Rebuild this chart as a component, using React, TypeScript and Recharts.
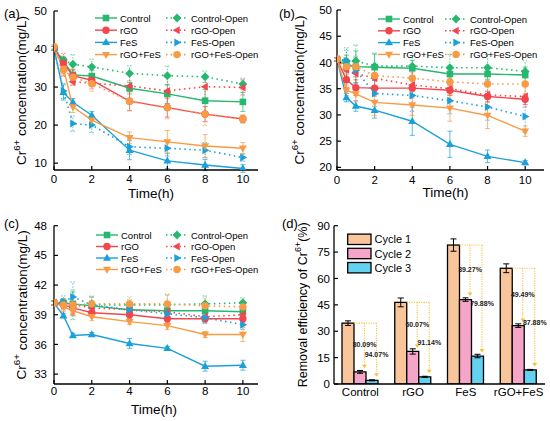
import React from 'react';
import { LineChart, Line, XAxis, YAxis, ErrorBar, Legend, BarChart, Bar } from 'recharts';

const FONT = 'Arial, "Liberation Sans", sans-serif';

// shared
const TIME = [0, 0.5, 1, 2, 4, 6, 8, 10];
const X_TICKS = [0, 2, 4, 6, 8, 10];
const SERIES_NAMES = ['Control', 'Control-Open', 'rGO', 'rGO-Open', 'FeS', 'FeS-Open', 'rGO+FeS', 'rGO+FeS-Open'];

// panel (a)
const A_CONTROL = [40.2, 36.8, 33.2, 32.9, 29.7, 28.2, 26.4, 26.1];
const A_CONTROL_OPEN = [40.2, 37.1, 36.0, 35.3, 33.6, 33.0, 32.7, 30.8];
const A_RGO = [40.2, 36.3, 33.0, 31.8, 26.3, 24.6, 22.9, 21.6];
const A_RGO_OPEN = [40.2, 35.8, 31.4, 31.0, 30.3, 29.0, 30.1, 29.9];
const A_FES = [40.2, 28.6, 26.0, 22.6, 13.4, 10.6, 9.5, 8.6];
const A_FES_OPEN = [40.2, 29.0, 20.4, 20.0, 14.3, 13.9, 13.4, 11.5];
const A_RGO_FES = [40.2, 34.9, 24.8, 21.3, 16.7, 15.6, 14.5, 13.9];
const A_RGO_FES_OPEN = [40.6, 34.5, 32.6, 30.9, 26.3, 24.6, 22.9, 21.6];

const A_CONTROL_ERR = [0.5, 1.0, 1.5, 1.5, 1.5, 2.5, 3.0, 2.5];
const A_CONTROL_OPEN_ERR = [0.5, 1.0, 2.5, 2.0, 2.0, 2.5, 1.5, 1.5];
const A_RGO_ERR = [0.5, 1.5, 1.5, 1.0, 2.5, 2.5, 2.0, 1.0];
const A_RGO_OPEN_ERR = [0.5, 3.0, 1.0, 1.5, 3.5, 3.5, 3.0, 2.0];
const A_FES_ERR = [0.5, 2.0, 1.0, 1.0, 2.5, 2.0, 1.5, 1.0];
const A_FES_OPEN_ERR = [0.5, 2.0, 2.0, 2.0, 2.0, 2.0, 2.0, 1.0];
const A_RGO_FES_ERR = [0.5, 1.5, 1.5, 1.0, 1.5, 3.0, 3.0, 1.5];
const A_RGO_FES_OPEN_ERR = [0.5, 1.5, 2.0, 2.0, 2.5, 3.0, 3.0, 1.0];

// panel (b)
const B_CONTROL = [40.6, 39.4, 39.2, 39.1, 38.9, 37.8, 37.8, 37.6];
const B_CONTROL_OPEN = [40.6, 40.3, 40.3, 39.3, 39.3, 39.0, 39.0, 38.3];
const B_RGO = [40.6, 36.7, 35.2, 35.1, 35.1, 34.7, 33.5, 33.0];
const B_RGO_OPEN = [40.6, 38.6, 37.9, 37.0, 35.7, 35.0, 33.8, 33.5];
const B_FES = [40.6, 33.3, 31.7, 30.9, 28.8, 24.4, 22.1, 20.9];
const B_FES_OPEN = [40.6, 40.3, 38.5, 34.1, 33.7, 32.7, 31.5, 29.7];
const B_RGO_FES = [40.6, 34.7, 34.0, 32.4, 31.9, 31.3, 29.9, 26.9];
const B_RGO_FES_OPEN = [40.6, 39.2, 39.2, 37.5, 37.0, 36.3, 35.9, 35.9];

const B_CONTROL_ERR = [0.3, 2.0, 3.0, 2.5, 1.5, 1.5, 1.0, 1.5];
const B_CONTROL_OPEN_ERR = [0.3, 2.5, 3.0, 2.5, 2.0, 2.5, 2.5, 2.0];
const B_RGO_ERR = [0.3, 1.5, 1.5, 1.5, 1.5, 1.0, 1.0, 1.0];
const B_RGO_OPEN_ERR = [0.3, 2.0, 2.5, 2.5, 2.5, 2.0, 2.0, 2.0];
const B_FES_ERR = [0.3, 0.8, 1.0, 1.5, 2.7, 2.5, 1.2, 0.4];
const B_FES_OPEN_ERR = [0.3, 2.0, 2.5, 2.5, 3.0, 2.5, 2.5, 3.0];
const B_RGO_FES_ERR = [0.3, 1.0, 1.5, 2.5, 2.0, 2.5, 2.5, 1.0];
const B_RGO_FES_OPEN_ERR = [0.3, 1.5, 2.0, 2.0, 2.5, 2.5, 2.5, 2.5];

// panel (c)
const C_CONTROL = [40.2, 40.2, 40.1, 39.9, 39.5, 39.4, 39.4, 39.3];
const C_CONTROL_OPEN = [40.2, 40.1, 40.0, 40.0, 40.0, 40.0, 40.1, 40.2];
const C_RGO = [40.2, 40.0, 39.7, 39.2, 39.0, 38.6, 38.6, 38.6];
const C_RGO_OPEN = [40.2, 40.1, 40.0, 39.7, 39.5, 39.3, 38.8, 39.0];
const C_FES = [40.2, 38.9, 36.9, 37.0, 36.1, 35.6, 33.8, 33.9];
const C_FES_OPEN = [40.2, 40.3, 40.8, 40.0, 39.5, 39.1, 38.7, 38.0];
const C_RGO_FES = [40.2, 39.8, 39.4, 38.8, 38.3, 37.9, 37.0, 37.0];
const C_RGO_FES_OPEN = [40.2, 40.0, 40.0, 40.1, 40.1, 40.1, 39.9, 39.8];

const C_CONTROL_ERR = [0.2, 0.4, 1.2, 0.5, 0.3, 0.6, 0.3, 0.3];
const C_CONTROL_OPEN_ERR = [0.2, 0.5, 1.5, 0.8, 0.5, 1.0, 0.8, 0.5];
const C_RGO_ERR = [0.2, 0.3, 0.6, 0.4, 0.4, 0.4, 0.3, 0.4];
const C_RGO_OPEN_ERR = [0.2, 0.5, 1.0, 0.6, 0.6, 0.6, 0.6, 0.6];
const C_FES_ERR = [0.2, 0.2, 0.2, 0.2, 0.5, 0.2, 0.5, 0.5];
const C_FES_OPEN_ERR = [0.2, 0.6, 1.5, 0.8, 0.5, 0.6, 0.6, 0.5];
const C_RGO_FES_ERR = [0.2, 0.5, 0.5, 0.4, 0.3, 0.4, 0.3, 0.7];
const C_RGO_FES_OPEN_ERR = [0.2, 0.6, 0.8, 0.8, 0.7, 1.0, 0.8, 0.6];

// panel (d)
const GROUPS = ['Control', 'rGO', 'FeS', 'rGO+FeS'];
const CYCLE_1 = [34.6, 46.4, 79.0, 65.8];
const CYCLE_2 = [6.9, 18.5, 48.0, 33.2];
const CYCLE_3 = [2.1, 4.1, 15.9, 8.0];
const CYCLE_1_ERR = [1.3, 2.5, 3.5, 2.5];
const CYCLE_2_ERR = [0.8, 1.5, 1.0, 1.0];
const CYCLE_3_ERR = [0.3, 0.3, 1.0, 0.3];
const DROP_2 = ['80.09%', '60.07%', '39.27%', '49.49%'];
const DROP_3 = ['94.07%', '91.14%', '79.88%', '87.88%'];
const CYCLE_NAMES = ['Cycle 1', 'Cycle 2', 'Cycle 3'];

const A_VALUES = [A_CONTROL, A_CONTROL_OPEN, A_RGO, A_RGO_OPEN, A_FES, A_FES_OPEN, A_RGO_FES, A_RGO_FES_OPEN];
const A_ERRORS = [A_CONTROL_ERR, A_CONTROL_OPEN_ERR, A_RGO_ERR, A_RGO_OPEN_ERR, A_FES_ERR, A_FES_OPEN_ERR, A_RGO_FES_ERR, A_RGO_FES_OPEN_ERR];
const B_VALUES = [B_CONTROL, B_CONTROL_OPEN, B_RGO, B_RGO_OPEN, B_FES, B_FES_OPEN, B_RGO_FES, B_RGO_FES_OPEN];
const B_ERRORS = [B_CONTROL_ERR, B_CONTROL_OPEN_ERR, B_RGO_ERR, B_RGO_OPEN_ERR, B_FES_ERR, B_FES_OPEN_ERR, B_RGO_FES_ERR, B_RGO_FES_OPEN_ERR];
const C_VALUES = [C_CONTROL, C_CONTROL_OPEN, C_RGO, C_RGO_OPEN, C_FES, C_FES_OPEN, C_RGO_FES, C_RGO_FES_OPEN];
const C_ERRORS = [C_CONTROL_ERR, C_CONTROL_OPEN_ERR, C_RGO_ERR, C_RGO_OPEN_ERR, C_FES_ERR, C_FES_OPEN_ERR, C_RGO_FES_ERR, C_RGO_FES_OPEN_ERR];

const GREEN = '#25B86E';
const RED = '#F2464F';
const BLUE = '#1CA0D9';
const ORANGE = '#F89B45';
const GOLD = '#F5C342';
const CYCLE_COLORS = ['#F9C69C', '#F5A5C8', '#62D2F0'];

const SERIES_STYLE = [
  { color: GREEN, shape: 'square', dotted: false },
  { color: GREEN, shape: 'diamond', dotted: true },
  { color: RED, shape: 'circle', dotted: false },
  { color: RED, shape: 'left', dotted: true },
  { color: BLUE, shape: 'up', dotted: false },
  { color: BLUE, shape: 'right', dotted: true },
  { color: ORANGE, shape: 'down', dotted: false },
  { color: ORANGE, shape: 'circle', dotted: true },
];

const AXIS = { stroke: '#000', strokeWidth: 1.3 };
const TICK_LINE = { stroke: '#000', strokeWidth: 1.2 };
const TICK = { fontSize: 11.5, fill: '#000', fontFamily: FONT };

const buildRows = (values: number[][], errors: number[][]) =>
  TIME.map((t, i) => {
    const row: Record<string, number> = { t };
    values.forEach((s, k) => {
      row[`v${k}`] = s[i];
      row[`e${k}`] = errors[k][i];
    });
    return row;
  });

const Marker = ({ cx, cy, shape, color }: any) => {
  const r = 3.3;
  if (cx == null || cy == null) return null;
  switch (shape) {
    case 'square':
      return <rect x={cx - r} y={cy - r} width={2 * r} height={2 * r} fill={color} />;
    case 'diamond':
      return <polygon points={`${cx},${cy - 4.4} ${cx + 4.4},${cy} ${cx},${cy + 4.4} ${cx - 4.4},${cy}`} fill={color} />;
    case 'circle':
      return <circle cx={cx} cy={cy} r={3.7} fill={color} />;
    case 'up':
      return <polygon points={`${cx},${cy - 4.3} ${cx + 4},${cy + 2.7} ${cx - 4},${cy + 2.7}`} fill={color} />;
    case 'down':
      return <polygon points={`${cx},${cy + 4.3} ${cx + 4},${cy - 2.7} ${cx - 4},${cy - 2.7}`} fill={color} />;
    case 'left':
      return <polygon points={`${cx - 4.3},${cy} ${cx + 2.7},${cy - 4} ${cx + 2.7},${cy + 4}`} fill={color} />;
    default:
      return <polygon points={`${cx + 4.3},${cy} ${cx - 2.7},${cy - 4} ${cx - 2.7},${cy + 4}`} fill={color} />;
  }
};

const yTitle = (before: string, sup: string, after: string, cxRel: number, size: number) => (props: any) => {
  const vb = props.viewBox || { x: 0, y: 0, width: 0, height: 0 };
  const cx = vb.x + cxRel;
  const cy = vb.y + vb.height / 2;
  return (
    <text x={cx} y={cy} transform={`rotate(-90 ${cx} ${cy})`} textAnchor="middle" dominantBaseline="central"
      fontSize={size} fill="#000" fontFamily={FONT}>
      {before}
      <tspan dy={-size * 0.4} fontSize={size * 0.72}>{sup}</tspan>
      <tspan dy={size * 0.4}>{after}</tspan>
    </text>
  );
};

const xTitle = (dx: number, dy: number) => (props: any) => {
  const vb = props.viewBox || { x: 0, y: 0, width: 0, height: 0 };
  return (
    <text x={vb.x + vb.width / 2 + dx} y={vb.y + dy} textAnchor="middle" dominantBaseline="central"
      fontSize={13.5} fill="#000" fontFamily={FONT}>
      Time(h)
    </text>
  );
};

const LineLegend = ({ spec }: any) => (
  <svg width={275} height={80} style={{ display: 'block', overflow: 'visible' }}>
    {SERIES_STYLE.map((s, k) => {
      const x = k % 2 ? spec.x2 : spec.x1;
      const y = spec.y + Math.floor(k / 2) * spec.dy;
      return (
        <g key={k}>
          <line x1={x} x2={x + 22} y1={y} y2={y} stroke={s.color} strokeWidth={s.dotted ? 1.6 : 1.4}
            strokeDasharray={s.dotted ? '1.5 3' : undefined} />
          <Marker cx={x + 11} cy={y} shape={s.shape} color={s.color} />
          <text x={x + 25} y={y} dominantBaseline="central" fontSize={9.5} fill="#000" fontFamily={FONT}>
            {SERIES_NAMES[k]}
          </text>
        </g>
      );
    })}
  </svg>
);

const ConcPanel = ({ values, errors, cfg }: any) => {
  const rows = buildRows(values, errors);
  return (
    <LineChart width={275} height={210} data={rows} margin={{ top: cfg.top, right: cfg.right, left: 0, bottom: 0 }}>
      <XAxis type="number" dataKey="t" domain={[0, cfg.xMax]} ticks={X_TICKS} allowDataOverflow
        height={cfg.xAxisHeight} tickSize={-4} tickMargin={cfg.xTickMargin} tick={TICK}
        axisLine={AXIS} tickLine={TICK_LINE} label={xTitle(cfg.xLabelDx, cfg.xLabelDy)} />
      <YAxis type="number" domain={cfg.yDomain} ticks={cfg.yTicks} allowDataOverflow width={cfg.yAxisWidth}
        tickSize={-4} tickMargin={cfg.yTickMargin} tick={TICK} axisLine={AXIS} tickLine={TICK_LINE}
        label={yTitle('Cr', '6+', ' concentration(mg/L)', cfg.yLabelX, 13.5)} />
      <XAxis xAxisId="frame" orientation="top" type="number" domain={[0, 1]} height={0} tick={false}
        tickLine={false} axisLine={AXIS} />
      <YAxis yAxisId="frame" orientation="right" type="number" domain={[0, 1]} width={0} tick={false}
        tickLine={false} axisLine={AXIS} />
      {SERIES_STYLE.map((s, k) => (
        <Line key={k} dataKey={`v${k}`} name={SERIES_NAMES[k]} stroke={s.color}
          strokeWidth={s.dotted ? 1.6 : 1.4} strokeDasharray={s.dotted ? '1.5 3.5' : undefined}
          activeDot={false} isAnimationActive={false}
          dot={(p: any) => <Marker key={`m${k}-${p.index}`} cx={p.cx} cy={p.cy} shape={s.shape} color={s.color} />}>
          <ErrorBar dataKey={`e${k}`} direction="y" width={2.5} stroke={s.color} strokeWidth={0.9}
            strokeOpacity={0.8} strokeDasharray={s.dotted ? '1.5 1.5' : undefined} />
        </Line>
      ))}
      <Legend layout="vertical" align="center" verticalAlign="middle"
        wrapperStyle={{ left: 0, top: 0, width: 275, height: 80 }}
        content={() => <LineLegend spec={cfg.legend} />} />
    </LineChart>
  );
};

const CFG_A = {
  top: 11, right: 17, yAxisWidth: 54, xAxisHeight: 40, xMax: 10.8, yDomain: [8.2, 50],
  yTicks: [10, 20, 30, 40, 50], xTickMargin: 9, yTickMargin: 11, yLabelX: 21, xLabelDx: -5, xLabelDy: 23,
  legend: { x1: 95, x2: 166, y: 18, dy: 12.2 },
};
const CFG_B = {
  top: 10, right: 6, yAxisWidth: 62, xAxisHeight: 40, xMax: 11, yDomain: [19.5, 50],
  yTicks: [20, 25, 30, 35, 40, 45, 50], xTickMargin: 10, yTickMargin: 9, yLabelX: 24, xLabelDx: 5, xLabelDy: 22.5,
  legend: { x1: 103, x2: 170, y: 19, dy: 11.8 },
};
const CFG_C = {
  top: 15.7, right: 17, yAxisWidth: 54, xAxisHeight: 36, xMax: 10.8, yDomain: [32, 48],
  yTicks: [33, 36, 39, 42, 45, 48], xTickMargin: 7, yTickMargin: 11, yLabelX: 21.7, xLabelDx: -2, xLabelDy: 25.5,
  legend: { x1: 96, x2: 166, y: 25, dy: 11.5 },
};

// first-cycle bar also carries the dotted drop annotations
const Cycle1Shape = (props: any) => {
  const { x, y, width, height, payload, index } = props;
  const base = y + height;
  const k = height / payload.c1;
  const x2 = x + 2 * width - 1.5;
  const x3 = x + 3 * width - 1.5;
  const y2 = base - payload.c2 * k - 3.5;
  const y3 = base - payload.c3 * k - 3.5;
  return (
    <g>
      <rect x={x} y={y} width={width} height={height} fill={CYCLE_COLORS[0]} stroke="#000" strokeWidth={1.3} />
      <g stroke={GOLD} strokeWidth={1.1} strokeDasharray="1.2 1.2" fill="none">
        <line x1={x + width} y1={y} x2={x3} y2={y} />
        <line x1={x2} y1={y} x2={x2} y2={y2 - 3} />
        <line x1={x3} y1={y} x2={x3} y2={y3 - 3} />
      </g>
      <polygon points={`${x2 - 2.5},${y2 - 3.5} ${x2 + 2.5},${y2 - 3.5} ${x2},${y2}`} fill={GOLD} />
      <polygon points={`${x3 - 2.5},${y3 - 3.5} ${x3 + 2.5},${y3 - 3.5} ${x3},${y3}`} fill={GOLD} />
      <g fontSize={7} fontWeight="bold" fill="#222" fontFamily={FONT} textAnchor="middle" dominantBaseline="central">
        <text x={x2} y={(y + y2) / 2 - 1}>{DROP_2[index]}</text>
        <text x={x3} y={(y + y3) / 2 + 5}>{DROP_3[index]}</text>
      </g>
    </g>
  );
};

const BarLegend = () => (
  <svg width={275} height={80} style={{ display: 'block', overflow: 'visible' }}>
    {CYCLE_NAMES.map((n, i) => {
      const cy = 29.3 + i * 14.2;
      return (
        <g key={n}>
          <rect x={72.7} y={cy - 5.2} width={23.3} height={10.4} fill={CYCLE_COLORS[i]} stroke="#000" strokeWidth={1.3} />
          <text x={99.5} y={cy} dominantBaseline="central" fontSize={11} fill="#000" fontFamily={FONT}>{n}</text>
        </g>
      );
    })}
  </svg>
);

const CyclePanel = () => {
  const rows = GROUPS.map((g, i) => ({
    name: g, c1: CYCLE_1[i], c2: CYCLE_2[i], c3: CYCLE_3[i],
    e1: CYCLE_1_ERR[i], e2: CYCLE_2_ERR[i], e3: CYCLE_3_ERR[i],
  }));
  return (
    <BarChart width={275} height={210} data={rows} margin={{ top: 15.7, right: 5, left: 0, bottom: 0 }}
      barSize={12} barGap={0}>
      <XAxis dataKey="name" height={36} tickLine={false} tickSize={0} tickMargin={4} axisLine={AXIS} tick={TICK} />
      <YAxis type="number" domain={[0, 90]} ticks={[0, 15, 30, 45, 60, 75, 90]} allowDataOverflow width={59}
        tickSize={-4} tickMargin={8} tick={TICK} axisLine={AXIS} tickLine={TICK_LINE}
        label={yTitle('Removal efficiency of Cr', '6+', '(%)', 28, 12.5)} />
      <XAxis xAxisId="frame" orientation="top" type="number" domain={[0, 1]} height={0} tick={false}
        tickLine={false} axisLine={AXIS} />
      <YAxis yAxisId="frame" orientation="right" type="number" domain={[0, 1]} width={0} tick={false}
        tickLine={false} axisLine={AXIS} />
      <Bar dataKey="c1" name={CYCLE_NAMES[0]} fill={CYCLE_COLORS[0]} shape={Cycle1Shape} isAnimationActive={false}>
        <ErrorBar dataKey="e1" direction="y" width={3} stroke="#000" strokeWidth={1} />
      </Bar>
      <Bar dataKey="c2" name={CYCLE_NAMES[1]} fill={CYCLE_COLORS[1]} stroke="#000" strokeWidth={1.3} isAnimationActive={false}>
        <ErrorBar dataKey="e2" direction="y" width={3} stroke="#000" strokeWidth={1} />
      </Bar>
      <Bar dataKey="c3" name={CYCLE_NAMES[2]} fill={CYCLE_COLORS[2]} stroke="#000" strokeWidth={1.3} isAnimationActive={false}>
        <ErrorBar dataKey="e3" direction="y" width={3} stroke="#000" strokeWidth={1} />
      </Bar>
      <Legend layout="vertical" align="center" verticalAlign="middle"
        wrapperStyle={{ left: 0, top: 0, width: 275, height: 80 }} content={() => <BarLegend />} />
    </BarChart>
  );
};

const tag = (text: string, left: number, top: number) => (
  <div style={{ position: 'absolute', left, top, fontSize: 13, lineHeight: '13px', fontFamily: FONT, color: '#000' }}>
    {text}
  </div>
);

export default function App() {
  return (
    <div style={{ position: 'absolute', left: 0, top: 0, width: 550, height: 421, background: '#fff', overflow: 'hidden' }}>
      <div style={{ position: 'absolute', left: 0, top: 0 }}>
        <ConcPanel values={A_VALUES} errors={A_ERRORS} cfg={CFG_A} />
      </div>
      <div style={{ position: 'absolute', left: 275, top: 0 }}>
        <ConcPanel values={B_VALUES} errors={B_ERRORS} cfg={CFG_B} />
      </div>
      <div style={{ position: 'absolute', left: 0, top: 210 }}>
        <ConcPanel values={C_VALUES} errors={C_ERRORS} cfg={CFG_C} />
      </div>
      <div style={{ position: 'absolute', left: 275, top: 210 }}>
        <CyclePanel />
      </div>
      {tag('(a)', 4, 7)}
      {tag('(b)', 279, 7)}
      {tag('(c)', 4, 217)}
      {tag('(d)', 282, 217)}
    </div>
  );
}
